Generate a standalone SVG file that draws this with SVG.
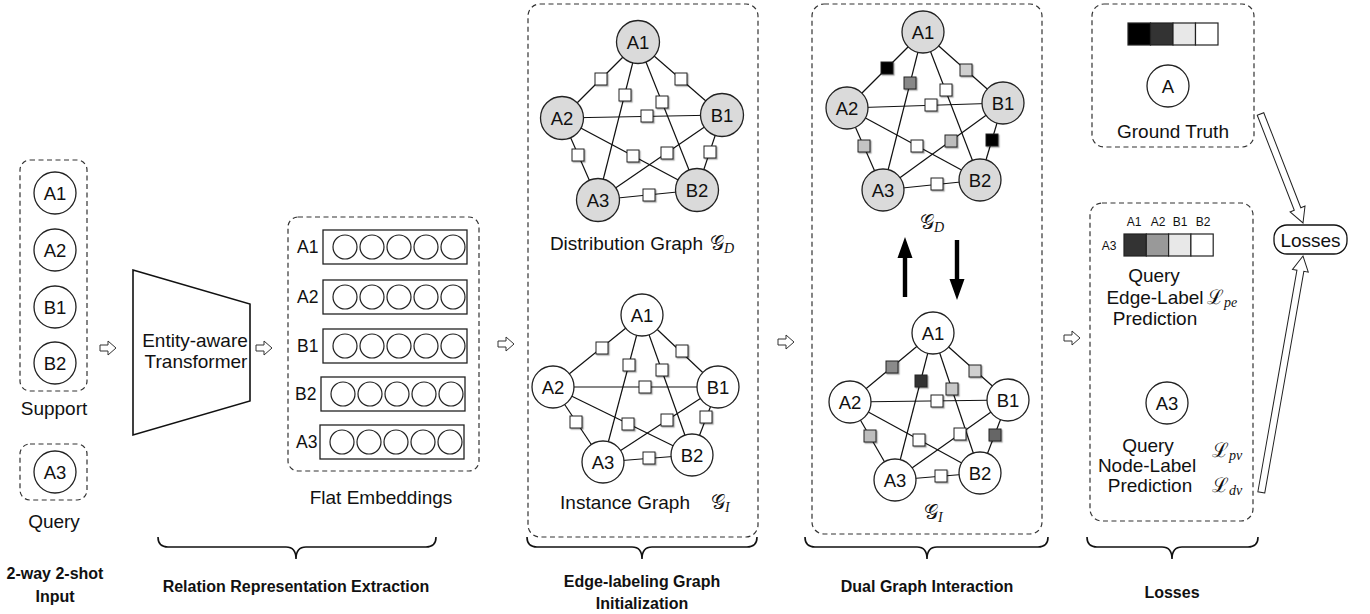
<svg xmlns="http://www.w3.org/2000/svg" width="1370" height="614" viewBox="0 0 1370 614">
  <defs>
    <filter id="shadow" x="-30%" y="-30%" width="180%" height="180%">
      <feDropShadow dx="1.2" dy="1.2" stdDeviation="0.7" flood-color="#000" flood-opacity="0.35"/>
    </filter>
    <!-- small hollow block arrow, pointing right -->
    <path id="hollow" d="M0,-3 L8,-3 L8,-7 L16,0 L8,7 L8,3 L0,3 Z" fill="#fff" stroke="#333" stroke-width="1"/>
  </defs>
  <style>
    text { font-family: "Liberation Sans", Arial, sans-serif; fill: #111; }
    .lbl { font-size: 19px; text-anchor: middle; dominant-baseline: central; }
    .nd { font-size: 18.5px; text-anchor: middle; dominant-baseline: central; }
    .emb { font-size: 17.5px; dominant-baseline: central; }
    .tiny { font-size: 12px; text-anchor: middle; dominant-baseline: central; }
    .title { font-size: 16px; font-weight: bold; text-anchor: middle; dominant-baseline: central; }
    .math { font-family: "DejaVu Serif", "Liberation Serif", serif; font-size: 20px; dominant-baseline: central; }
    .sub { font-family: "Liberation Serif", serif; font-style: italic; font-size: 14px; }
    .dash { fill: none; stroke: #333; stroke-width: 1.2; stroke-dasharray: 5 3.5; }
    .node { fill: #fff; stroke: #222; stroke-width: 1.3; }
    .gray .node { fill: #dadada; }
    .edge line { stroke: #111; stroke-width: 1.2; }
    .sq { stroke: #222; stroke-width: 1; fill: #fff; filter: url(#shadow); }
    .cell { stroke: #222; stroke-width: 1.2; }
    .brace { fill: none; stroke: #111; stroke-width: 1.6; }
    .emb-row rect { fill: #fff; stroke: #222; stroke-width: 1.3; }
    .emb-row circle { fill: #fff; stroke: #222; stroke-width: 1.2; }
  </style>

  <!-- ===== 2-way 2-shot input ===== -->
  <g id="support">
    <rect class="dash" x="20" y="160" width="67" height="231" rx="10"/>
    <circle class="node" cx="55" cy="193" r="21"/><text class="nd" x="55" y="193">A1</text>
    <circle class="node" cx="55" cy="250" r="21"/><text class="nd" x="55" y="250">A2</text>
    <circle class="node" cx="55" cy="307" r="21"/><text class="nd" x="55" y="307">B1</text>
    <circle class="node" cx="55" cy="363" r="21"/><text class="nd" x="55" y="363">B2</text>
    <text class="lbl" x="54" y="408">Support</text>
  </g>
  <g id="query">
    <rect class="dash" x="20" y="444" width="67" height="56" rx="10"/>
    <circle class="node" cx="55" cy="472" r="21"/><text class="nd" x="55" y="472">A3</text>
    <text class="lbl" x="54" y="521">Query</text>
  </g>

  <!-- ===== encoder ===== -->
  <g id="transformer">
    <polygon points="133,270 250,304 250,401 133,435" fill="#fff" stroke="#111" stroke-width="1.6"/>
    <text class="lbl" x="195" y="340">Entity-aware</text>
    <text class="lbl" x="196" y="361">Transformer</text>
  </g>

  <!-- ===== flat embeddings ===== -->
  <g id="flat-embeddings">
    <rect class="dash" x="288" y="217" width="191" height="254" rx="10"/>
    <g class="emb-row">
      <text class="emb" x="297" y="247">A1</text>
      <rect x="323" y="230" width="144" height="34"/>
      <circle cx="345" cy="247" r="12"/><circle cx="372" cy="247" r="12"/><circle cx="399" cy="247" r="12"/><circle cx="426" cy="247" r="12"/><circle cx="453" cy="247" r="12"/>
    </g>
    <g class="emb-row">
      <text class="emb" x="297" y="297">A2</text>
      <rect x="323" y="280" width="144" height="34"/>
      <circle cx="345" cy="297" r="12"/><circle cx="372" cy="297" r="12"/><circle cx="399" cy="297" r="12"/><circle cx="426" cy="297" r="12"/><circle cx="453" cy="297" r="12"/>
    </g>
    <g class="emb-row">
      <text class="emb" x="297" y="346">B1</text>
      <rect x="323" y="329" width="144" height="34"/>
      <circle cx="345" cy="346" r="12"/><circle cx="372" cy="346" r="12"/><circle cx="399" cy="346" r="12"/><circle cx="426" cy="346" r="12"/><circle cx="453" cy="346" r="12"/>
    </g>
    <g class="emb-row">
      <text class="emb" x="295" y="394">B2</text>
      <rect x="321" y="377" width="144" height="34"/>
      <circle cx="343" cy="394" r="12"/><circle cx="370" cy="394" r="12"/><circle cx="397" cy="394" r="12"/><circle cx="424" cy="394" r="12"/><circle cx="451" cy="394" r="12"/>
    </g>
    <g class="emb-row">
      <text class="emb" x="296" y="442">A3</text>
      <rect x="320" y="425" width="144" height="34"/>
      <circle cx="342" cy="442" r="12"/><circle cx="369" cy="442" r="12"/><circle cx="396" cy="442" r="12"/><circle cx="423" cy="442" r="12"/><circle cx="450" cy="442" r="12"/>
    </g>
    <text class="lbl" x="381" y="497">Flat Embeddings</text>
  </g>

  <!-- ===== edge-labeling graph initialization ===== -->
  <g id="init-panel">
    <rect class="dash" x="528" y="4" width="230" height="533" rx="12"/>
    <text class="lbl" x="703" y="243" style="text-anchor:end">Distribution Graph</text>
    <text class="math" x="710" y="243">𝒢<tspan class="sub" dy="5">D</tspan></text>
    <text class="lbl" x="690" y="502" style="text-anchor:end">Instance Graph</text>
    <text class="math" x="711" y="502">𝒢<tspan class="sub" dy="5">I</tspan></text>
  </g>

  <!-- distribution graph G_D -->
  <g id="graph-dist" class="gray">
    <g class="edge">
      <line x1="638" y1="42" x2="562" y2="118"/><line x1="638" y1="42" x2="598" y2="200"/>
      <line x1="638" y1="42" x2="697" y2="190"/><line x1="638" y1="42" x2="722" y2="115"/>
      <line x1="562" y1="118" x2="722" y2="115"/><line x1="562" y1="118" x2="598" y2="200"/>
      <line x1="562" y1="118" x2="697" y2="190"/><line x1="722" y1="115" x2="598" y2="200"/>
      <line x1="722" y1="115" x2="697" y2="190"/><line x1="598" y1="200" x2="697" y2="190"/>
    </g>
    <rect class="sq" x="595" y="73" width="12" height="12"/>
    <rect class="sq" x="619" y="89" width="12" height="12"/>
    <rect class="sq" x="656" y="96" width="12" height="12"/>
    <rect class="sq" x="675" y="73" width="12" height="12"/>
    <rect class="sq" x="641" y="110" width="12" height="12"/>
    <rect class="sq" x="572" y="149" width="12" height="12"/>
    <rect class="sq" x="627" y="150" width="12" height="12"/>
    <rect class="sq" x="661" y="147" width="12" height="12"/>
    <rect class="sq" x="704" y="146" width="12" height="12"/>
    <rect class="sq" x="643" y="189" width="12" height="12"/>
    <circle class="node" cx="638" cy="42" r="21.5"/><text class="nd" x="638" y="42">A1</text>
    <circle class="node" cx="562" cy="118" r="21.5"/><text class="nd" x="562" y="118">A2</text>
    <circle class="node" cx="722" cy="115" r="21.5"/><text class="nd" x="722" y="115">B1</text>
    <circle class="node" cx="598" cy="200" r="21.5"/><text class="nd" x="598" y="200">A3</text>
    <circle class="node" cx="697" cy="190" r="21.5"/><text class="nd" x="697" y="190">B2</text>
  </g>

  <!-- instance graph G_I -->
  <g id="graph-inst">
    <g class="edge">
      <line x1="642" y1="315" x2="553" y2="387"/><line x1="642" y1="315" x2="603" y2="462"/>
      <line x1="642" y1="315" x2="692" y2="455"/><line x1="642" y1="315" x2="718" y2="387"/>
      <line x1="553" y1="387" x2="718" y2="387"/><line x1="553" y1="387" x2="603" y2="462"/>
      <line x1="553" y1="387" x2="692" y2="455"/><line x1="718" y1="387" x2="603" y2="462"/>
      <line x1="718" y1="387" x2="692" y2="455"/><line x1="603" y1="462" x2="692" y2="455"/>
    </g>
    <rect class="sq" x="596" y="342" width="12" height="12"/>
    <rect class="sq" x="623" y="359" width="12" height="12"/>
    <rect class="sq" x="656" y="364" width="12" height="12"/>
    <rect class="sq" x="676" y="345" width="12" height="12"/>
    <rect class="sq" x="639" y="381" width="12" height="12"/>
    <rect class="sq" x="570" y="416" width="12" height="12"/>
    <rect class="sq" x="622" y="418" width="12" height="12"/>
    <rect class="sq" x="661" y="414" width="12" height="12"/>
    <rect class="sq" x="700" y="411" width="12" height="12"/>
    <rect class="sq" x="643" y="452" width="12" height="12"/>
    <circle class="node" cx="642" cy="315" r="21"/><text class="nd" x="642" y="315">A1</text>
    <circle class="node" cx="553" cy="387" r="21"/><text class="nd" x="553" y="387">A2</text>
    <circle class="node" cx="718" cy="387" r="21"/><text class="nd" x="718" y="387">B1</text>
    <circle class="node" cx="603" cy="462" r="21"/><text class="nd" x="603" y="462">A3</text>
    <circle class="node" cx="692" cy="455" r="21"/><text class="nd" x="692" y="455">B2</text>
  </g>

  <!-- ===== dual graph interaction ===== -->
  <g id="dual-panel">
    <rect class="dash" x="812" y="4" width="230" height="530" rx="12"/>
    <text class="math" x="920" y="222">𝒢<tspan class="sub" dy="5">D</tspan></text>
    <text class="math" x="924" y="512">𝒢<tspan class="sub" dy="5">I</tspan></text>
  </g>

  <g id="dual-graph-d" class="gray">
    <g class="edge">
      <line x1="923" y1="32" x2="847" y2="108"/><line x1="923" y1="32" x2="883" y2="190"/>
      <line x1="923" y1="32" x2="980" y2="180"/><line x1="923" y1="32" x2="1003" y2="103"/>
      <line x1="847" y1="108" x2="1003" y2="103"/><line x1="847" y1="108" x2="883" y2="190"/>
      <line x1="847" y1="108" x2="980" y2="180"/><line x1="1003" y1="103" x2="883" y2="190"/>
      <line x1="1003" y1="103" x2="980" y2="180"/><line x1="883" y1="190" x2="980" y2="180"/>
    </g>
    <rect class="sq" x="881" y="62" width="12" height="12" style="fill:#000"/>
    <rect class="sq" x="904" y="77" width="12" height="12" style="fill:#888"/>
    <rect class="sq" x="940" y="84" width="12" height="12"/>
    <rect class="sq" x="960" y="64" width="12" height="12" style="fill:#cfcfcf"/>
    <rect class="sq" x="925" y="99" width="12" height="12"/>
    <rect class="sq" x="858" y="140" width="12" height="12" style="fill:#c4c4c4"/>
    <rect class="sq" x="911" y="140" width="12" height="12"/>
    <rect class="sq" x="945" y="135" width="12" height="12" style="fill:#bdbdbd"/>
    <rect class="sq" x="986" y="134" width="12" height="12" style="fill:#000"/>
    <rect class="sq" x="931" y="178" width="12" height="12"/>
    <circle class="node" cx="923" cy="32" r="21"/><text class="nd" x="923" y="32">A1</text>
    <circle class="node" cx="847" cy="108" r="21"/><text class="nd" x="847" y="108">A2</text>
    <circle class="node" cx="1003" cy="103" r="21"/><text class="nd" x="1003" y="103">B1</text>
    <circle class="node" cx="883" cy="190" r="21"/><text class="nd" x="883" y="190">A3</text>
    <circle class="node" cx="980" cy="180" r="21"/><text class="nd" x="980" y="180">B2</text>
  </g>

  <g id="dual-graph-i">
    <g class="edge">
      <line x1="933" y1="333" x2="850" y2="402"/><line x1="933" y1="333" x2="895" y2="480"/>
      <line x1="933" y1="333" x2="980" y2="473"/><line x1="933" y1="333" x2="1008" y2="400"/>
      <line x1="850" y1="402" x2="1008" y2="400"/><line x1="850" y1="402" x2="895" y2="480"/>
      <line x1="850" y1="402" x2="980" y2="473"/><line x1="1008" y1="400" x2="895" y2="480"/>
      <line x1="1008" y1="400" x2="980" y2="473"/><line x1="895" y1="480" x2="980" y2="473"/>
    </g>
    <rect class="sq" x="886" y="361" width="12" height="12" style="fill:#8a8a8a"/>
    <rect class="sq" x="915" y="375" width="12" height="12" style="fill:#333"/>
    <rect class="sq" x="946" y="383" width="12" height="12" style="fill:#c8c8c8"/>
    <rect class="sq" x="969" y="365" width="12" height="12" style="fill:#cfcfcf"/>
    <rect class="sq" x="931" y="395" width="12" height="12"/>
    <rect class="sq" x="864" y="430" width="12" height="12" style="fill:#bdbdbd"/>
    <rect class="sq" x="913" y="434" width="12" height="12"/>
    <rect class="sq" x="954" y="428" width="12" height="12"/>
    <rect class="sq" x="989" y="429" width="12" height="12" style="fill:#666"/>
    <rect class="sq" x="935" y="470" width="12" height="12"/>
    <circle class="node" cx="933" cy="333" r="21"/><text class="nd" x="933" y="333">A1</text>
    <circle class="node" cx="850" cy="402" r="21"/><text class="nd" x="850" y="402">A2</text>
    <circle class="node" cx="1008" cy="400" r="21"/><text class="nd" x="1008" y="400">B1</text>
    <circle class="node" cx="895" cy="480" r="21"/><text class="nd" x="895" y="480">A3</text>
    <circle class="node" cx="980" cy="473" r="21"/><text class="nd" x="980" y="473">B2</text>
  </g>

  <!-- ===== losses ===== -->
  <g id="ground-truth">
    <rect class="dash" x="1092" y="4" width="162" height="143" rx="12"/>
    <rect class="cell" x="1128" y="23" width="22.5" height="22" fill="#000"/>
    <rect class="cell" x="1150.5" y="23" width="22.5" height="22" fill="#333"/>
    <rect class="cell" x="1173" y="23" width="22.5" height="22" fill="#e8e8e8"/>
    <rect class="cell" x="1195.5" y="23" width="22.5" height="22" fill="#fff"/>
    <circle class="node" cx="1168" cy="86" r="21"/><text class="nd" x="1168" y="86">A</text>
    <text class="lbl" x="1173" y="131">Ground Truth</text>
  </g>

  <g id="prediction">
    <rect class="dash" x="1090" y="203" width="163" height="318" rx="12"/>
    <text class="tiny" x="1134" y="222">A1</text>
    <text class="tiny" x="1158" y="222">A2</text>
    <text class="tiny" x="1180" y="222">B1</text>
    <text class="tiny" x="1203" y="222">B2</text>
    <text class="tiny" x="1109" y="246">A3</text>
    <rect class="cell" x="1124" y="234" width="22.3" height="22" fill="#333"/>
    <rect class="cell" x="1146.3" y="234" width="22.3" height="22" fill="#999"/>
    <rect class="cell" x="1168.6" y="234" width="22.3" height="22" fill="#e8e8e8"/>
    <rect class="cell" x="1190.9" y="234" width="22.3" height="22" fill="#fff"/>
    <text class="lbl" x="1154" y="275">Query</text>
    <text class="lbl" x="1155" y="297">Edge-Label</text>
    <text class="lbl" x="1155" y="318">Prediction</text>
    <text class="math" x="1207" y="297">ℒ<tspan class="sub" dy="5">pe</tspan></text>
    <circle class="node" cx="1167" cy="403" r="21"/><text class="nd" x="1167" y="403">A3</text>
    <text class="lbl" x="1148" y="445">Query</text>
    <text class="lbl" x="1147" y="465">Node-Label</text>
    <text class="lbl" x="1150" y="485">Prediction</text>
    <text class="math" x="1212" y="450">ℒ<tspan class="sub" dy="5">pv</tspan></text>
    <text class="math" x="1212" y="485">ℒ<tspan class="sub" dy="5">dv</tspan></text>
  </g>

  <g id="losses">
    <rect x="1274" y="225" width="73" height="29" rx="13" fill="#fff" stroke="#111" stroke-width="1.3"/>
    <text class="lbl" x="1310.5" y="240">Losses</text>
  </g>

  <!-- ===== connectors ===== -->
  <g id="connectors">
    <use href="#hollow" x="100" y="348"/>
    <use href="#hollow" x="256" y="348"/>
    <use href="#hollow" x="498" y="344"/>
    <use href="#hollow" x="778" y="342"/>
    <use href="#hollow" x="1064" y="338"/>
    <!-- dual graph message passing -->
    <polygon points="905,237 912.5,258 907.2,258 907.2,297 902.8,297 902.8,258 897.5,258" fill="#000"/>
    <polygon points="957,300 964.5,279 959.2,279 959.2,240 954.8,240 954.8,279 949.5,279" fill="#000"/>
    <!-- hollow arrows into the loss node -->
    <g transform="translate(1303,223) rotate(-21.3)">
      <path d="M-3.5,-117 L3.5,-117 L3.5,-15 L8,-15 L0,0 L-8,-15 L-3.5,-15 Z" fill="#fff" stroke="#222" stroke-width="1"/>
    </g>
    <g transform="translate(1303,256) rotate(190)">
      <path d="M-3.5,-240 L3.5,-240 L3.5,-15 L8,-15 L0,0 L-8,-15 L-3.5,-15 Z" fill="#fff" stroke="#222" stroke-width="1"/>
    </g>
  </g>

  <!-- ===== stage braces and titles ===== -->
  <g id="stage-labels">
    <path class="brace" d="M158,537 Q158,547 168,547 L286,547 Q296,547 296,559 Q296,547 306,547 L426,547 Q436,547 436,537"/>
    <path class="brace" d="M527,537 Q527,547 537,547 L632,547 Q642,547 642,559 Q642,547 652,547 L747,547 Q757,547 757,537"/>
    <path class="brace" d="M805,537 Q805,547 815,547 L917,547 Q927,547 927,559 Q927,547 937,547 L1038,547 Q1048,547 1048,537"/>
    <path class="brace" d="M1087,537 Q1087,547 1097,547 L1162,547 Q1172,547 1172,559 Q1172,547 1182,547 L1248,547 Q1258,547 1258,537"/>
    <text class="title" x="55" y="573">2-way 2-shot</text>
    <text class="title" x="55" y="596">Input</text>
    <text class="title" x="296" y="586">Relation Representation Extraction</text>
    <text class="title" x="642" y="581">Edge-labeling Graph</text>
    <text class="title" x="642" y="603">Initialization</text>
    <text class="title" x="927" y="586">Dual Graph Interaction</text>
    <text class="title" x="1172" y="592">Losses</text>
  </g>
</svg>
